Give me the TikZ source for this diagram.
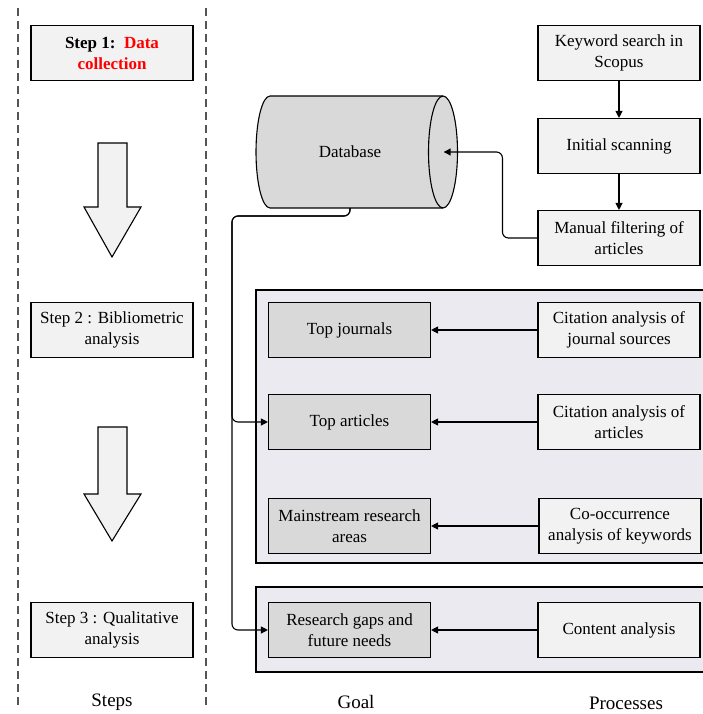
\documentclass[tikz,border=0pt]{standalone}
\usepackage{fontspec}
\setmainfont{Liberation Serif}
\usetikzlibrary{arrows.meta, calc, positioning}
\definecolor{boxlight}{HTML}{F2F2F2}
\definecolor{boxdark}{HTML}{D9D9D9}
\definecolor{panelfill}{HTML}{ECEAF1}
\definecolor{guide}{HTML}{555555}

\begin{document}
\begin{tikzpicture}[x=1pt, y=-1pt,
	box/.style={draw, line width=1.1pt, minimum width=162pt, minimum height=55pt, align=center, inner sep=2pt, font=\fontsize{17}{21}\selectfont},
	stepbox/.style={box, fill=boxlight},
	goalbox/.style={box, fill=boxdark},
	procbox/.style={box, fill=boxlight},
	panel/.style={draw, line width=1.1pt, fill=panelfill},
	bigarrow/.style={draw, line width=1.1pt, fill=boxlight},
	link/.style={line width=1.1pt, -{Triangle[width=7pt, length=7pt]}},
	caption/.style={font=\fontsize{19}{22}\selectfont, inner sep=1pt}]
				\useasboundingbox (0,0) rectangle (702,714);
				
				% column guides
				\draw[guide, dashed, line width=1.1pt, dash pattern=on 8pt off 5pt] (18,8) -- (18,706);
				\draw[guide, dashed, line width=1.1pt, dash pattern=on 8pt off 5pt] (206,8) -- (206,706);
				
				% background panels
				\draw[panel] (256,290) rectangle (706,563);
				\draw[panel] (256,587) rectangle (706,672);
				
				% steps
				\node[stepbox] (step1) at (112,53) {\textbf{Step 1:}\ \ \textcolor{red}{\textbf{Data}}\\\textcolor{red}{\textbf{collection}}};
				\node[stepbox] (step2) at (112,330) {Step 2 : Bibliometric\\analysis};
				\node[stepbox] (step3) at (112,630) {Step 3 : Qualitative\\analysis};
				
				\draw[bigarrow] (98,143) -- (127,143) -- (127,207) -- (141,207) -- (112,257) -- (84,207) -- (98,207) -- cycle;
				\draw[bigarrow] (98,427) -- (127,427) -- (127,494) -- (141,494) -- (112,541) -- (84,494) -- (98,494) -- cycle;
				
				% database drum
				\draw[fill=boxdark, line width=1.1pt] (270,96) -- (443,96) arc[start angle=-90, end angle=90, x radius=14.5, y radius=56] -- (270,208) arc[start angle=90, end angle=270, x radius=14, y radius=56] -- cycle;
				\draw[line width=1.1pt] (443,96) arc[start angle=-90, end angle=-270, x radius=14.5, y radius=56];
				\node[minimum width=187pt, minimum height=112pt, inner sep=0pt, font=\fontsize{17}{21}\selectfont] (db) at (350,152) {Database};
				
				% processes
				\node[procbox] (keyword) at (619,53) {Keyword search in\\Scopus};
				\node[procbox] (scan) at (619,146) {Initial scanning};
				\node[procbox] (manual) at (619,238) {Manual filtering of\\articles};
				
				\node[procbox] (citjour) at (619,330) {Citation analysis of\\journal sources};
				\node[procbox] (citart) at (619,422) {Citation analysis of\\articles};
				\node[procbox] (cooc) at (620,526) {Co-occurrence\\analysis of keywords};
				\node[procbox] (content) at (619,630) {Content analysis};
				
				% goals
				\node[goalbox] (topjour) at (349.5,330) {Top journals};
				\node[goalbox] (topart) at (349.5,422) {Top articles};
				\node[goalbox] (mainarea) at (349.5,526) {Mainstream research\\areas};
				\node[goalbox] (gaps) at (349.5,630) {Research gaps and\\future needs};
				
				% captions
				\node[caption] (steps) at (112,702) {Steps};
				\node[caption] (goal) at (356,702) {Goal};
				\node[caption] (procs) at (626,703) {Processes};
				
				\coordinate (bus) at (232,216);
				
				\draw[link] (keyword) -- (scan);
				\draw[link] (scan) -- (manual);
				\draw[link, rounded corners=6pt] (manual.west) -- ++(-35,0) |- (db.east);
				
				\draw[link, rounded corners=6pt] (db.south) |- (bus) |- (topart.west);
				\draw[link, rounded corners=6pt] (db.south) |- (bus) |- (gaps.west);
				
				\draw[link] (citjour) -- (topjour);
				\draw[link] (citart) -- (topart);
				\draw[link] (cooc) -- (mainarea);
				\draw[link] (content) -- (gaps);
				
\end{tikzpicture}
\end{document}
